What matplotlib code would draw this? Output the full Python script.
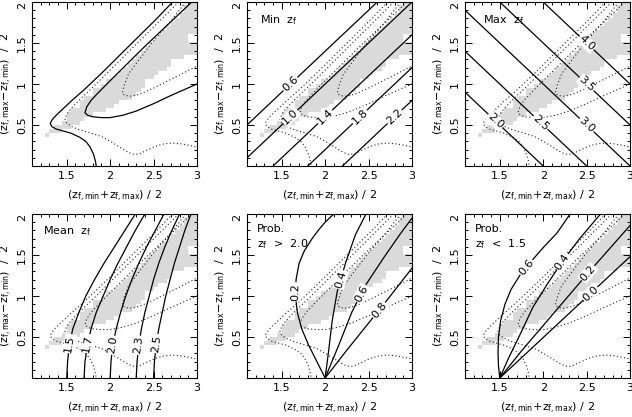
"""six-panel z_f plane: (zmin+zmax)/2 vs (zmax-zmin)/2.
gray = best-fit cells, dotted = confidence contours, solid = derived quantities.
"""
import numpy as np
import matplotlib
matplotlib.use('Agg')
import matplotlib.pyplot as plt
from matplotlib.ticker import MultipleLocator, FixedLocator
from matplotlib.colors import to_rgba

plt.rcParams['font.family'] = ['DejaVu Sans']
plt.rcParams['mathtext.fontset'] = 'dejavusans'
plt.rcParams['mathtext.default'] = 'regular'
plt.rcParams['font.size'] = 8

# ---- gray best-fit cells (column left edge -> list of (ylo, yhi)) ----
GRAY_DX = 0.05
GRAY_X0 = [1.25, 1.30, 1.35, 1.40, 1.45, 1.50, 1.55, 1.60, 1.65, 1.70, 1.75,
           1.80, 1.85, 1.90, 1.95, 2.00, 2.05, 2.10, 2.15, 2.20, 2.25, 2.30,
           2.35, 2.40, 2.45, 2.50, 2.55, 2.60, 2.65, 2.70, 2.75, 2.80, 2.85,
           2.90, 2.95]
GRAY_SPANS = [
    [(0.35, 0.40)], [(0.40, 0.45)], [(0.40, 0.50)], [(0.40, 0.50)],
    [(0.45, 0.55)], [(0.45, 0.65)], [(0.50, 0.70)], [(0.50, 0.70)],
    [(0.55, 0.80)], [(0.60, 0.85)], [(0.60, 0.85)], [(0.65, 0.95)],
    [(0.65, 0.95)], [(0.65, 1.00)], [(0.70, 1.05)], [(0.70, 1.05)],
    [(0.75, 1.10)], [(0.80, 1.15)], [(0.80, 1.20)], [(0.80, 1.25)],
    [(0.85, 1.30)], [(0.90, 1.35)], [(0.95, 1.40)], [(1.05, 1.45)],
    [(1.05, 1.50)], [(1.10, 1.55)], [(1.15, 1.60)], [(1.15, 1.65)],
    [(1.20, 1.70)], [(1.30, 1.75)], [(1.30, 1.80)], [(1.30, 1.85)],
    [(1.35, 1.95)], [(1.35, 1.50), (1.60, 2.00)], [(1.35, 1.50), (1.60, 2.00)],
]

# ---- confidence contours (same in every panel) ----
C1_X = [2.72, 2.52, 2.30, 2.10, 1.90, 1.70, 1.55, 1.45, 1.37, 1.33, 1.31,
        1.33, 1.38, 1.45, 1.55, 1.65, 1.72, 1.77, 1.81, 1.83, 1.84]
C1_Y = [2.00, 1.78, 1.55, 1.34, 1.13, 0.93, 0.79, 0.69, 0.61, 0.56, 0.52,
        0.48, 0.45, 0.43, 0.40, 0.35, 0.30, 0.23, 0.14, 0.06, 0.00]
C2_X = [2.79, 2.60, 2.40, 2.20, 2.00, 1.80, 1.65, 1.55, 1.50, 1.48, 1.50,
        1.56, 1.65, 1.78, 1.90, 2.02, 2.14, 2.22, 2.28, 2.34, 2.42, 2.52,
        2.62, 2.72, 2.82, 2.92, 3.00]
C2_Y = [2.00, 1.80, 1.59, 1.38, 1.17, 0.96, 0.81, 0.70, 0.63, 0.57, 0.52,
        0.48, 0.44, 0.40, 0.36, 0.29, 0.21, 0.16, 0.14, 0.15, 0.19, 0.24,
        0.27, 0.28, 0.27, 0.25, 0.23]
C2B_X = [2.94, 2.80, 2.60, 2.40, 2.20, 2.00, 1.86, 1.78, 1.73, 1.71, 1.74,
         1.80, 1.90, 2.00, 2.15, 2.30, 2.50, 2.70, 2.85, 3.00]
C2B_Y = [2.00, 1.86, 1.66, 1.46, 1.25, 1.04, 0.89, 0.80, 0.72, 0.65, 0.62,
         0.60, 0.59, 0.59, 0.62, 0.67, 0.76, 0.86, 0.93, 1.00]
C3_X = [2.87, 2.70, 2.48, 2.30, 2.21, 2.16, 2.14, 2.17, 2.25, 2.35, 2.50,
        2.65, 2.80, 3.00]
C3_Y = [2.00, 1.77, 1.50, 1.25, 1.12, 0.98, 0.89, 0.86, 0.85, 0.88, 0.95,
        1.03, 1.11, 1.22]

# ---- Min z_f ----
MIN_LABELS = ['0.6', '1.0', '1.4', '1.8', '2.2']
MIN_X = [[1.1, 2.6], [1.1, 3.0], [1.4, 3.0], [1.8, 3.0], [2.2, 3.0]]
MIN_Y = [[0.5, 2.0], [0.1, 2.0], [0.0, 1.6], [0.0, 1.2], [0.0, 0.8]]
MIN_LABEL_Y = [1.00, 0.60, 0.60, 0.60, 0.60]

# ---- Max z_f ----
MAX_LABELS = ['2.0', '2.5', '3.0', '3.5', '4.0']
MAX_X = [[1.1, 2.0], [1.1, 2.5], [1.1, 3.0], [1.5, 3.0], [2.0, 3.0]]
MAX_Y = [[0.9, 0.0], [1.4, 0.0], [1.9, 0.0], [2.0, 0.5], [2.0, 1.0]]
MAX_LABEL_Y = [0.55, 0.53, 0.50, 1.00, 1.50]

# ---- Mean z_f (x read at fixed heights) ----
MEAN_LABELS = ['1.5', '1.7', '2.0', '2.3', '2.5']
MEAN_Y = [0.0, 0.2, 0.4, 0.6, 0.8, 1.0, 1.2, 1.4, 1.6, 1.8, 2.0]
MEAN_X = [
    [1.50, 1.51, 1.53, 1.57, 1.64, 1.72, 1.82, 1.93, 2.05, 2.17, 2.29],
    [1.70, 1.71, 1.74, 1.78, 1.84, 1.92, 2.00, 2.09, 2.19, 2.29, 2.40],
    [2.00, 2.01, 2.03, 2.07, 2.12, 2.18, 2.25, 2.33, 2.42, 2.52, 2.62],
    [2.30, 2.31, 2.33, 2.36, 2.40, 2.45, 2.50, 2.56, 2.63, 2.71, 2.80],
    [2.50, 2.51, 2.53, 2.56, 2.60, 2.64, 2.69, 2.74, 2.80, 2.86, 2.93],
]
MEAN_LABEL_Y = [0.42, 0.42, 0.40, 0.40, 0.42]

# ---- Prob z_f > 2.0 ----
PGT_LABELS = ['0.2', '0.4', '0.6', '0.8']
PGT_X = [
    [2.00, 1.905, 1.81, 1.73, 1.68, 1.658, 1.665, 1.70, 1.76, 1.85, 1.92, 2.00, 2.10],
    [2.00, 2.04, 2.08, 2.14, 2.24, 2.35, 2.47],
    [2.00, 2.16, 2.31, 2.47, 2.67, 2.86, 3.00],
    [2.00, 2.25, 2.50, 2.75, 3.00],
]
PGT_Y = [
    [0.00, 0.20, 0.40, 0.60, 0.80, 1.00, 1.20, 1.40, 1.55, 1.70, 1.80, 1.90, 2.00],
    [0.00, 0.33, 0.69, 1.06, 1.42, 1.75, 2.00],
    [0.00, 0.41, 0.81, 1.14, 1.46, 1.75, 1.95],
    [0.00, 0.34, 0.67, 1.00, 1.34],
]
PGT_LABEL_Y = [1.05, 1.20, 1.03, 0.83]

# ---- Prob z_f < 1.5 ----
PLT_LABELS = ['0.6', '0.4', '0.2', '0.0']
PLT_X = [
    [1.50, 1.485, 1.48, 1.485, 1.51, 1.56, 1.63, 1.73, 1.86, 2.00, 2.16, 2.31],
    [1.50, 1.60, 1.72, 1.88, 2.05, 2.22, 2.42, 2.66],
    [1.50, 1.75, 2.00, 2.25, 2.50, 2.75, 3.00],
    [1.50, 3.00],
]
PLT_Y = [
    [0.00, 0.15, 0.30, 0.50, 0.70, 0.90, 1.08, 1.25, 1.42, 1.59, 1.77, 2.00],
    [0.00, 0.24, 0.50, 0.86, 1.15, 1.42, 1.70, 2.00],
    [0.00, 0.33, 0.64, 0.95, 1.26, 1.56, 1.86],
    [0.00, 1.48],
]
PLT_LABEL_Y = [1.35, 1.42, 1.28, 1.03]

XLABEL = r'$(z_{f,min}\!+\!z_{f,max})$ / 2'
YLABEL = r'$(z_{f,max}\!-\!z_{f,min})$  /  2'

DOT = dict(color='#222222', lw=0.8, ls=(0, (1, 2.2)), zorder=2)
SOLID = dict(color='black', lw=0.9, zorder=3)


def setup(ax):
    ax.set_xlim(1.1, 3.0)
    ax.set_ylim(0, 2)
    ax.xaxis.set_major_locator(FixedLocator([1.5, 2.0, 2.5, 3.0]))
    ax.set_xticklabels(['1.5', '2', '2.5', '3'])
    ax.xaxis.set_minor_locator(MultipleLocator(0.1))
    ax.yaxis.set_major_locator(FixedLocator([0.0, 0.5, 1.0, 1.5, 2.0]))
    ax.set_yticklabels(['', '0.5', '1', '1.5', '2'])
    ax.yaxis.set_minor_locator(MultipleLocator(0.1))
    ax.tick_params(which='both', direction='in', top=True, right=True, width=0.7)
    ax.tick_params(which='major', length=5, labelsize=8)
    ax.tick_params(which='minor', length=2.5)
    labs = ax.get_yticklabels()
    for lab in labs:
        lab.set_rotation(90)
        lab.set_va('center')
    labs[-1].set_va('top')   # keep the top "2" inside the figure
    for s in ax.spines.values():
        s.set_linewidth(0.8)
    ax.set_xlabel(XLABEL, fontsize=8)
    ax.set_ylabel(YLABEL, fontsize=8)
    ax.xaxis.set_label_coords(0.5, -0.14)
    ax.yaxis.set_label_coords(-0.11, 0.5)


def gray_cells(ax):
    nx = len(GRAY_X0)
    ny = int(round(2.0 / GRAY_DX))
    img = np.zeros((ny, nx, 4))
    col = to_rgba('#dadada')
    for i, spans in enumerate(GRAY_SPANS):
        for lo, hi in spans:
            img[int(round(lo / GRAY_DX)):int(round(hi / GRAY_DX)), i] = col
    x0 = GRAY_X0[0]
    ax.imshow(img, extent=[x0, x0 + nx * GRAY_DX, 0, 2], origin='lower',
              interpolation='nearest', aspect='auto', zorder=1)


def label_on(ax, xs, ys, ly, txt):
    xs, ys = np.asarray(xs, float), np.asarray(ys, float)
    o = np.argsort(ys)
    lx = np.interp(ly, ys[o], xs[o])
    d = 0.06
    xa = np.interp(ly - d, ys[o], xs[o])
    xb = np.interp(ly + d, ys[o], xs[o])
    p1 = ax.transData.transform((xa, ly - d))
    p2 = ax.transData.transform((xb, ly + d))
    ang = np.degrees(np.arctan2(p2[1] - p1[1], p2[0] - p1[0]))
    if ang > 90:
        ang -= 180
    elif ang < -90:
        ang += 180
    ax.text(lx, ly, txt, rotation=ang, rotation_mode='anchor', ha='center',
            va='center', fontsize=8, zorder=5,
            bbox=dict(fc='white', ec='none', pad=0.6))


def background(ax, solid_outer=False):
    gray_cells(ax)
    if solid_outer:
        ax.plot(C1_X, C1_Y, **SOLID)
        ax.plot(C2B_X, C2B_Y, **SOLID)
    else:
        ax.plot(C1_X, C1_Y, **DOT)
        ax.plot(C2B_X, C2B_Y, **DOT)
    ax.plot(C2_X, C2_Y, **DOT)
    ax.plot(C3_X, C3_Y, **DOT)


def curves(ax, xs_list, ys_list, labels, label_y):
    for xs, ys, lab, ly in zip(xs_list, ys_list, labels, label_y):
        ax.plot(xs, ys, **SOLID)
        label_on(ax, xs, ys, ly, lab)


fig = plt.figure(figsize=(6.32, 4.17), dpi=100)
lefts = [0.0506, 0.3908, 0.7358]
bottoms = [0.6019, 0.0935]
W, H = 0.2611, 0.3933
axes = [[fig.add_axes([l, b, W, H]) for l in lefts] for b in bottoms]
for row in axes:
    for ax in row:
        setup(ax)

# top-left: contours only
ax = axes[0][0]
background(ax, solid_outer=True)

# Min z_f
ax = axes[0][1]
background(ax)
curves(ax, MIN_X, MIN_Y, MIN_LABELS, MIN_LABEL_Y)
ax.text(0.08, 0.888, r'Min  $z_f$', transform=ax.transAxes, ha='left', va='center')

# Max z_f
ax = axes[0][2]
background(ax)
curves(ax, MAX_X, MAX_Y, MAX_LABELS, MAX_LABEL_Y)
ax.text(0.107, 0.888, r'Max  $z_f$', transform=ax.transAxes, ha='left', va='center')

# Mean z_f
ax = axes[1][0]
background(ax)
curves(ax, MEAN_X, [MEAN_Y] * len(MEAN_X), MEAN_LABELS, MEAN_LABEL_Y)
ax.text(0.067, 0.894, r'Mean  $z_f$', transform=ax.transAxes, ha='left', va='center')

# Prob z_f > 2.0
ax = axes[1][1]
background(ax)
curves(ax, PGT_X, PGT_Y, PGT_LABELS, PGT_LABEL_Y)
ax.text(0.061, 0.94, 'Prob.\n' + r'$z_f$  >  2.0', transform=ax.transAxes,
        ha='left', va='top', linespacing=1.3)

# Prob z_f < 1.5
ax = axes[1][2]
background(ax)
curves(ax, PLT_X, PLT_Y, PLT_LABELS, PLT_LABEL_Y)
ax.text(0.058, 0.94, 'Prob.\n' + r'$z_f$  <  1.5', transform=ax.transAxes,
        ha='left', va='top', linespacing=1.3)

fig.savefig('out.png', dpi=100)
